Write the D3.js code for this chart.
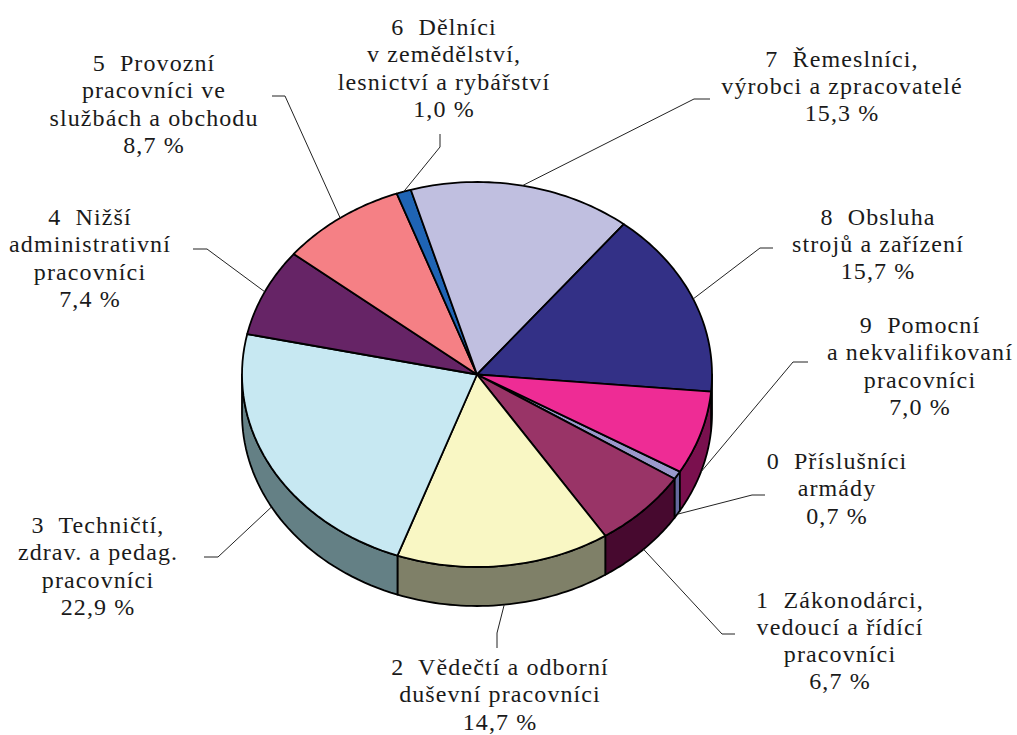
<!DOCTYPE html>
<html><head><meta charset="utf-8"><style>html,body{margin:0;padding:0;background:#fff;overflow:hidden}svg{display:block}
text{font-family:"Liberation Serif",serif;font-size:24px;letter-spacing:1.1px;fill:#1a1a1a;text-anchor:middle}</style>
<script src="https://cdn.jsdelivr.net/npm/d3@7/dist/d3.min.js"></script></head><body><script>
const categories=["0  Příslušníci|armády","1  Zákonodárci,|vedoucí a řídící|pracovníci","2  Vědečtí a odborní|duševní pracovníci","3  Techničtí,|zdrav. a pedag.|pracovníci","4  Nižší|administrativní|pracovníci","5  Provozní|pracovníci ve|službách a obchodu","6  Dělníci|v zemědělství,|lesnictví a rybářství","7  Řemeslníci,|výrobci a zpracovatelé","8  Obsluha|strojů a zařízení","9  Pomocní|a nekvalifikovaní|pracovníci"];
const values=[0.7,6.7,14.7,22.9,7.4,8.7,1.0,15.3,15.7,7.0];
const valueLabels=["0,7 %","6,7 %","14,7 %","22,9 %","7,4 %","8,7 %","1,0 %","15,3 %","15,7 %","7,0 %"];
const topColors=["#9a99cc","#993467","#f9f7c4","#c7e8f2","#662466","#f58085","#1f64b4","#c0bfe0","#333086","#ee2c95"];
const sideColors=["#666a9e","#47092f","#7f8068","#648085","#3d1440","#93504f","#123c6c","#73728a","#1e1d50","#7a104e"];
// layout: label centre x, first baseline y, leader elbow and end
const labelX=[837,840,500,98,90,154,444,842,878,920];
const labelY=[469,607.5,675,533,225,71,35,66.5,224.5,333];
const elbows=[[752,495],[722,634],[497,633],[218,557],[207,249],[285,96],[440,147],[694,99],[760,248],[793,362]];
const ends=[[765,495],[735,634],[497,648],[204,557],[193,249],[272,96],[440,134],[710,99],[773,248],[808,362]];

const W=1017,H=735,cx=477,cy=374.5,rx=235,ry=192.5,depth=39,start=120.3*Math.PI/180;
const svg=d3.select("body").append("svg").attr("width",W).attr("height",H);
const arcs=d3.pie().sort(null).startAngle(start).endAngle(start+2*Math.PI)(values);
const px=a=>cx+rx*Math.sin(a),py=a=>cy-ry*Math.cos(a);
const samples=(a,b)=>d3.range(0,41).map(i=>a+(b-a)*i/40);
const line=d3.line();
const topPath=d=>"M"+cx+","+cy+"L"+samples(d.startAngle,d.endAngle).map(a=>[px(a),py(a)]).join("L")+"Z";
const visible=d=>{ // portion of the slice facing the viewer: angles PI/2..3PI/2 modulo 2PI
  const lo=Math.max(d.startAngle,Math.PI/2),hi=Math.min(d.endAngle,3*Math.PI/2);
  const lo2=Math.max(d.startAngle,Math.PI/2+2*Math.PI),hi2=Math.min(d.endAngle,3*Math.PI/2+2*Math.PI);
  if(hi>lo)return [lo,hi]; if(hi2>lo2)return [lo2,hi2]; return null;};
const sidePath=([a,b])=>{const s=samples(a,b);
  return line(s.map(t=>[px(t),py(t)]).concat(s.slice().reverse().map(t=>[px(t),py(t)+depth])))+"Z";};

svg.append("g").selectAll("path").data(arcs.filter(visible)).join("path")
  .attr("d",d=>sidePath(visible(d))).attr("fill",d=>sideColors[d.index])
  .attr("stroke","#000").attr("stroke-width",1.8).attr("stroke-linejoin","round");
svg.append("g").selectAll("path").data(arcs).join("path").attr("d",topPath)
  .attr("fill",d=>topColors[d.index]).attr("stroke","#000").attr("stroke-width",1.8).attr("stroke-linejoin","round");

// leader lines
svg.append("g").selectAll("path").data(arcs).join("path").attr("fill","none").attr("stroke","#222").attr("stroke-width",1)
  .attr("d",d=>{const m=(d.startAngle+d.endAngle)/2;const front=Math.cos(m)<0;
    return line([[px(m),py(m)+(front?depth:0)],elbows[d.index],ends[d.index]]);});

// labels
const lab=svg.append("g").selectAll("text").data(arcs).join("text")
  .attr("transform",d=>`translate(${labelX[d.index]},${labelY[d.index]})`);
lab.selectAll("tspan").data(d=>categories[d.index].split("|").concat(valueLabels[d.index])).join("tspan")
  .attr("x",0).attr("dy",(d,i)=>i?27.3:0).style("white-space","pre").text(d=>d);
</script></body></html>
